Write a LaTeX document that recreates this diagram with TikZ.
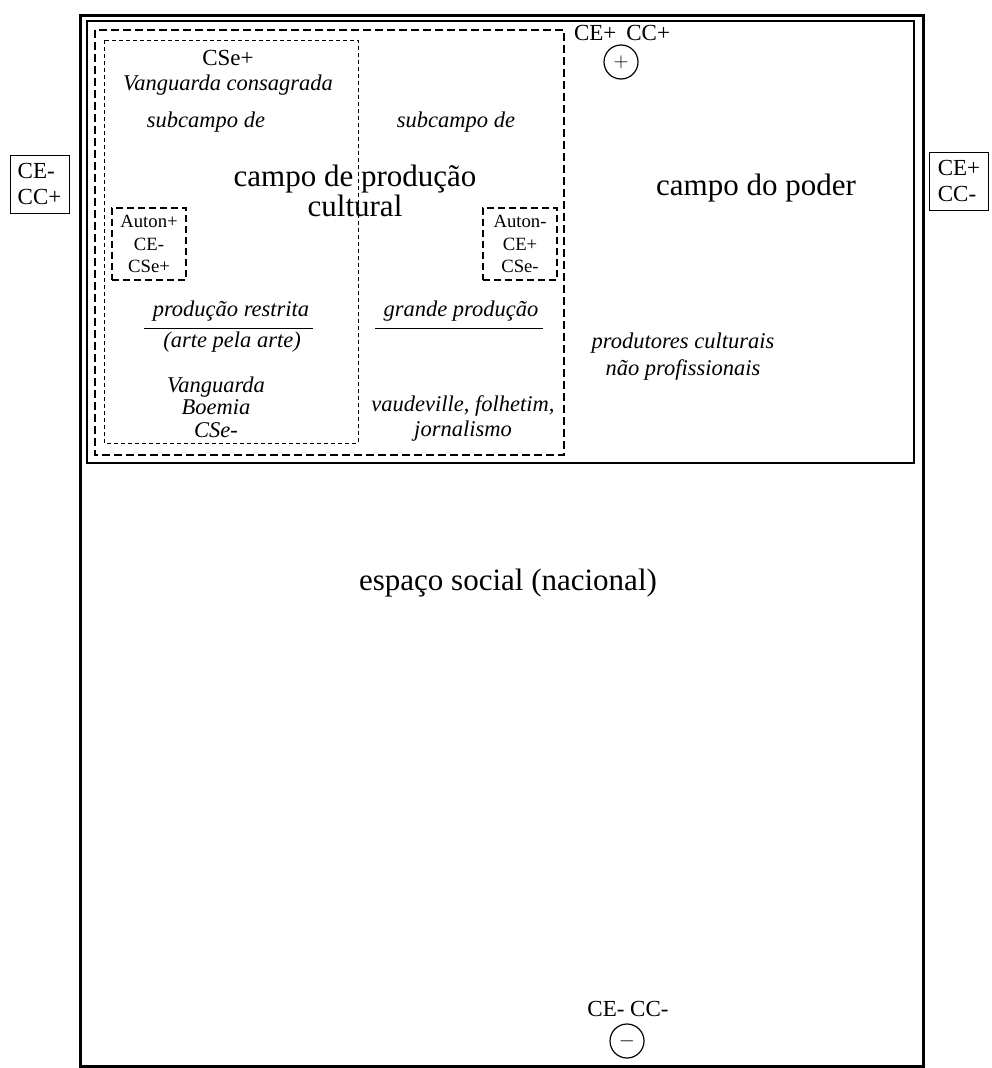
\documentclass[tikz,border=0pt]{standalone}
\usepackage{fontspec}
\setmainfont{Liberation Serif}
\begin{document}
\begin{tikzpicture}[x=1pt,y=-1pt,
 txt/.style={font=\fontsize{23}{24}\selectfont, align=center, inner sep=0pt},
 itx/.style={font=\fontsize{22.5}{22.5}\selectfont\itshape, align=center, inner sep=0pt},
 big/.style={font=\fontsize{31}{30}\selectfont, align=center, inner sep=0pt},
 sidebox/.style={draw, line width=1pt, font=\fontsize{23}{26}\selectfont, align=left, inner sep=3pt, minimum width=59pt, minimum height=58pt},
 autonbox/.style={draw, line width=2.5pt, dash pattern=on 7pt off 4pt, font=\fontsize{18.7}{22.5}\selectfont, align=center, minimum width=74pt, minimum height=72pt, inner sep=0pt},
 signc/.style={circle, draw, line width=1.2pt, minimum size=34pt, inner sep=0pt, font=\fontsize{22}{22}\selectfont},
 outerframe/.style={line width=3pt},
 innerframe/.style={line width=1.5pt},
 thickdash/.style={line width=2.5pt, dash pattern=on 8pt off 4pt},
 thindash/.style={line width=0.8pt, dash pattern=on 4pt off 3pt},
 rule/.style={line width=1pt}]
\useasboundingbox (0,0) rectangle (991,1068);
% frames
\draw[outerframe] (80,15) rectangle (923,1066);
\draw[innerframe] (87,21) rectangle (914,463);
\draw[thickdash] (95,30) rectangle (564,455);
\draw[thindash] (104,40) rectangle (358,443);
% side boxes
\node[sidebox] (left) at (39.5,184) {CE-\\CC+};
\node[sidebox] (right) at (959,181) {CE+\\CC-};
% autonomy boxes
\node[autonbox] (aplus) at (149,244) {Auton+\\CE-\\CSe+};
\node[autonbox] (aminus) at (520,244) {Auton-\\CE+\\CSe-};
% signs
\node[txt] (ceccplus) at (622,33) {CE+\hspace{10pt}CC+};
\node[signc] (plus) at (621,62) {$+$};
\node[txt] (ceccminus) at (628,1009) {CE- CC-};
\node[signc] (minus) at (627,1041) {$-$};
% texts in restricted subfield
\node[txt] (cse) at (228,58) {CSe+};
\node[itx] (vcons) at (228,85) {Vanguarda consagrada};
\node[itx] (sub1) at (206,122) {subcampo de};
\node[itx] (sub2) at (456,122) {subcampo de};
\node[big] (cpc) at (355,191) {campo de produção\\cultural};
\node[big] (cpoder) at (756,188) {campo do poder};
\node[itx] (prest) at (231,311) {produção restrita};
\coordinate (r1a) at (144,328);
\coordinate (r1b) at (313,328);
\draw[rule] (r1a) -- (r1b);
\node[itx] (arte) at (232,342) {(arte pela arte)};
\node[itx] (gprod) at (461,311) {grande produção};
\coordinate (r2a) at (375,328);
\coordinate (r2b) at (543,328);
\draw[rule] (r2a) -- (r2b);
\node[itx] (vang) at (216,407) {Vanguarda\\Boemia\\CSe-};
\node[itx, font=\fontsize{22.5}{25}\selectfont\itshape] (vaud) at (463,418) {vaudeville, folhetim,\\jornalismo};
\node[itx, font=\fontsize{22.5}{27}\selectfont\itshape] (prod) at (683,357) {produtores culturais\\não profissionais};
\node[big] (esp) at (508,583) {espaço social (nacional)};
\end{tikzpicture}
\end{document}
